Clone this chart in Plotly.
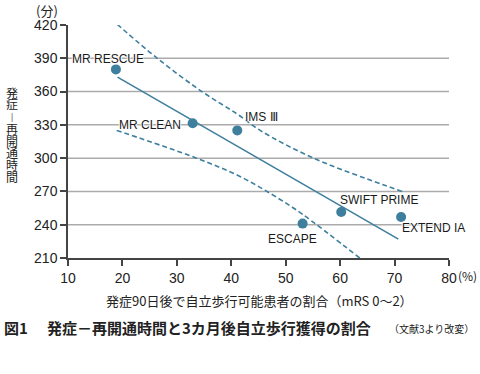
import plotly.graph_objects as go

# ---- data ----
trial_names = ["MR RESCUE", "MR CLEAN", "IMS Ⅲ", "SWIFT PRIME", "EXTEND IA", "ESCAPE"]
pct_independent = [18.8, 32.9, 41.1, 60.2, 71.2, 53.1]
onset_to_reperfusion = [380, 331.5, 325, 251.5, 247, 241]

fit_x = [19.1, 70.7]
fit_y = [373, 227]

upper_x = [19.05, 26.4, 34.6, 41.0, 45.3, 55.1, 67.9, 71.4]
upper_y = [420.6, 390, 360, 340, 325, 300, 276, 270]
lower_x = [18.95, 33.6, 41.6, 48.9, 53.2, 63.6]
lower_y = [325, 300, 283.5, 263, 249, 210]

x_ticks = [10, 20, 30, 40, 50, 60, 70, 80]
y_ticks = [210, 240, 270, 300, 330, 360, 390, 420]

y_title_chars = ["発", "症", "|", "再", "開", "通", "時", "間"]

# ---- layout constants ----
W, H = 480, 374
ML, MR, MT, MB = 68, 31, 25, 116
PW, PH = W - ML - MR, H - MT - MB
TEAL = "#3e7f9e"
LAT = "Liberation Sans, Arial, sans-serif"
JP = "Noto Sans CJK JP, sans-serif"


def px(xp):
    return (xp - ML) / PW


def py(yp):
    return (H - MB - yp) / PH


fig = go.Figure()

# gridlines (from tick values, excluding axis ends)
for v in y_ticks[1:-1]:
    fig.add_shape(type="line", xref="paper", yref="y", x0=0, x1=1, y0=v, y1=v,
                  line=dict(color="#ababab", width=1.5), layer="below")

fig.add_trace(go.Scatter(x=upper_x, y=upper_y, mode="lines", line=dict(color=TEAL, width=1.6, dash="5px,3px", shape="spline"), hoverinfo="skip"))
fig.add_trace(go.Scatter(x=lower_x, y=lower_y, mode="lines", line=dict(color=TEAL, width=1.6, dash="5px,3px", shape="spline"), hoverinfo="skip"))
fig.add_trace(go.Scatter(x=fit_x, y=fit_y, mode="lines", line=dict(color=TEAL, width=1.6), hoverinfo="skip"))
fig.add_trace(go.Scatter(x=pct_independent, y=onset_to_reperfusion, mode="markers",
                         marker=dict(color=TEAL, size=10, line=dict(width=0))))

halo = "1px 0 1px #fff, -1px 0 1px #fff, 0 1px 1px #fff, 0 -1px 1px #fff"
label_offsets = {
    "MR RESCUE": ("center", -8, 10),
    "MR CLEAN": ("right", -10, -2),
    "IMS Ⅲ": ("left", 6, 13),
    "SWIFT PRIME": ("center", 38, 12),
    "EXTEND IA": ("left", -1, -11),
    "ESCAPE": ("center", -10, -15),
}
for name, xv, yv in zip(trial_names, pct_independent, onset_to_reperfusion):
    anc, dx, dy = label_offsets[name]
    fig.add_annotation(x=xv, y=yv, xref="x", yref="y", text=name, showarrow=False,
                       xanchor=anc, yanchor="middle", xshift=dx, yshift=dy,
                       font=dict(family=LAT, size=12, color="#1a1a1a", shadow=halo))

# unit labels
fig.add_annotation(x=px(47), y=py(10), xref="paper", yref="paper", text="(分)", showarrow=False,
                   xanchor="center", yanchor="middle", font=dict(family=JP, size=13, color="#222"))
fig.add_annotation(x=px(456), y=py(275.5), xref="paper", yref="paper", text="(%)", showarrow=False,
                   xanchor="left", yanchor="middle", font=dict(family=JP, size=12, color="#222"))

# y-axis title (vertical)
for i, ch in enumerate(y_title_chars):
    fig.add_annotation(x=px(11.5), y=py(92 + i * 12), xref="paper", yref="paper", text=ch,
                       showarrow=False, xanchor="center", yanchor="middle",
                       font=dict(family=JP, size=8 if ch == "|" else 12, color="#222"))

# x-axis title
fig.add_annotation(x=px(259), y=py(300), xref="paper", yref="paper",
                   text="発症90日後で自立歩行可能患者の割合（mRS 0～2）", showarrow=False,
                   xanchor="center", yanchor="middle", font=dict(family=JP, size=13, color="#222"))

# caption
fig.add_annotation(x=px(2), y=py(327), xref="paper", yref="paper", text="<b>図1</b>", showarrow=False,
                   xanchor="left", yanchor="middle", font=dict(family=JP, size=15, color="#222"))
fig.add_annotation(x=px(45), y=py(327), xref="paper", yref="paper",
                   text="<b>発症－再開通時間と3カ月後自立歩行獲得の割合</b>", showarrow=False,
                   xanchor="left", yanchor="middle", font=dict(family=JP, size=15, color="#222"))
fig.add_annotation(x=px(387), y=py(328), xref="paper", yref="paper",
                   text="（文献3より改変）", showarrow=False,
                   xanchor="left", yanchor="middle", font=dict(family=JP, size=10, color="#222"))

fig.update_layout(
    width=W, height=H,
    margin=dict(l=ML, r=MR, t=MT, b=MB, pad=0),
    paper_bgcolor="white", plot_bgcolor="white",
    showlegend=False,
    font=dict(family=LAT, size=14, color="#222"),
)
fig.update_xaxes(range=[10, 80], tickvals=x_ticks, ticktext=[str(v) for v in x_ticks],
                 showgrid=False, zeroline=False, showline=True, linecolor="#444", linewidth=1.5,
                 ticks="outside", ticklen=6, tickcolor="#444", tickwidth=1.5,
                 tickfont=dict(family=LAT, size=14, color="#222"))
fig.update_yaxes(range=[210, 420], tickvals=y_ticks, ticktext=[str(v) for v in y_ticks],
                 showgrid=False, zeroline=False, showline=True, linecolor="#444", linewidth=1.5,
                 ticks="outside", ticklen=6, tickcolor="#444", tickwidth=1.5,
                 tickfont=dict(family=LAT, size=14, color="#222"))

fig.write_html("out.html", config={"displayModeBar": False},
               post_script="document.body.style.margin='0';document.body.style.overflow='hidden';")
